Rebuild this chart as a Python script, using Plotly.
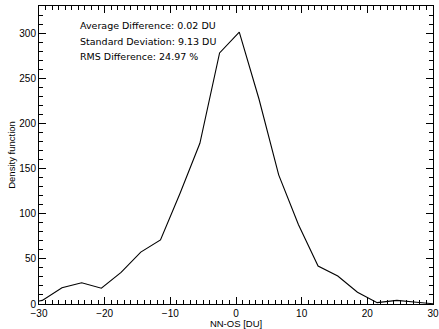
import plotly.graph_objects as go

# Data
diff_du = [-32.5, -29.5, -26.5, -23.5, -20.5, -17.5, -14.5, -11.5, -8.5, -5.5, -2.5,
           0.5, 3.5, 6.5, 9.5, 12.5, 15.5, 18.5, 21.5, 24.5, 27.5, 30.5]
density = [0, 4, 18, 23.5, 17.5, 35, 57.5, 71, 123, 178, 278,
           301, 227, 143, 88, 42, 31, 13, 1.5, 4, 2, 0]

stats_text = ["Average Difference: 0.02 DU",
              "Standard Deviation: 9.13 DU",
              "RMS Difference: 24.97 %"]
x_ticks = [-30, -20, -10, 0, 10, 20, 30]
y_ticks = [0, 50, 100, 150, 200, 250, 300]

FONT = "Liberation Sans"
FONT_TXT = "DejaVu Sans"

fig = go.Figure()
fig.add_trace(go.Scatter(x=diff_du, y=density, mode="lines",
                         line=dict(color="black", width=1.1), showlegend=False))

for i, t in enumerate(stats_text):
    fig.add_annotation(x=0.1, y=0.935 - i * 0.053, xref="paper", yref="paper",
                       text=t, showarrow=False, xanchor="left", yanchor="middle",
                       font=dict(family=FONT_TXT, size=9.5, color="black"))

axis_common = dict(showgrid=False, zeroline=False, showline=True, linecolor="black",
                   linewidth=1, mirror="ticks", ticks="inside", tickcolor="black",
                   tickwidth=1, automargin=False,
                   tickfont=dict(family=FONT, size=10, color="black"))

fig.update_xaxes(range=[-30, 30], tickvals=x_ticks, ticklen=7,
                 minor=dict(dtick=1, ticks="inside", ticklen=4, tickcolor="black", showgrid=False),
                 title=dict(text="NN-OS [DU]", font=dict(family=FONT, size=9.5, color="black"), standoff=4),
                 **axis_common)
fig.update_yaxes(range=[0, 330], tickvals=y_ticks, ticklen=7,
                 minor=dict(dtick=10, ticks="inside", ticklen=4, tickcolor="black", showgrid=False),
                 title=dict(text="Density function", font=dict(family=FONT, size=9.5, color="black"), standoff=1),
                 **axis_common)

fig.update_layout(width=439, height=329, paper_bgcolor="white", plot_bgcolor="white",
                  margin=dict(l=39, r=5.5, t=6, b=25))

fig.write_html("out.html", config={"displayModeBar": False},
               post_script="document.body.style.margin='0px';")
